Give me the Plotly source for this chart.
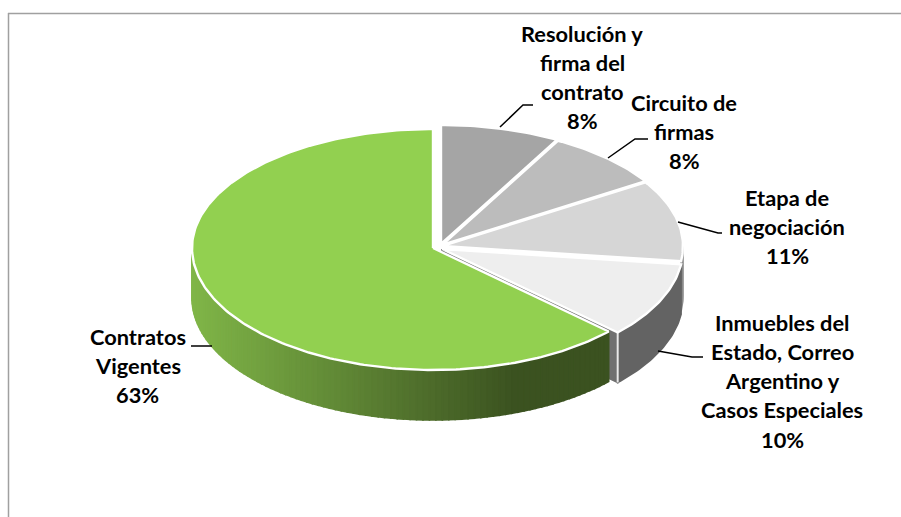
import math
import numpy as np
import plotly.graph_objects as go

# --- data ---
categories = ["Resolución y firma del contrato", "Circuito de firmas", "Etapa de negociación",
              "Inmuebles del Estado, Correo Argentino y Casos Especiales", "Contratos Vigentes"]
values = [8, 8, 11, 10, 63]
label_lines = [["Resolución y", "firma del", "contrato"], ["Circuito de", "firmas"],
               ["Etapa de", "negociación"], ["Inmuebles del", "Estado, Correo", "Argentino y", "Casos Especiales"],
               ["Contratos", "Vigentes"]]
top_colors = ["#a5a5a5", "#bcbcbc", "#d6d6d6", "#eeeeee", "#92d050"]

# --- layout of the drawing (pixels) ---
W, H = 901, 517
RX, RY_BACK, RY_FRONT, DEPTH = 241, 119, 122, 50
centers = [(441, 244), (442, 245), (442, 246), (442, 249), (433, 248)]
label_pos = [(582, 33), (684, 102), (787, 197), (782, 322), (137.5, 336)]
LINE_STEP = 29.3
leaders = [[(500, 127), (523, 105), (533, 105)], [(608, 158), (635, 139), (648, 139)],
           [(678, 222), (718, 233), (722, 233)], [(658, 351), (692, 357), (703, 357)],
           [(191, 346), (212, 346)]]


def pt(c, theta, dy=0.0):
    s, co = math.sin(theta), math.cos(theta)
    ry = RY_BACK if co > 0 else RY_FRONT
    return c[0] + RX * s, c[1] - ry * co + dy


def arc(c, a0, a1, dy=0.0, n=None):
    n = n or max(3, int(abs(a1 - a0) * 60))
    return [pt(c, a, dy) for a in np.linspace(a0, a1, n)]


def lerp_hex(a, b, t):
    t = min(max(t, 0), 1)
    ca = [int(a[i:i + 2], 16) for i in (1, 3, 5)]
    cb = [int(b[i:i + 2], 16) for i in (1, 3, 5)]
    return "#%02x%02x%02x" % tuple(round(x + (y - x) * t) for x, y in zip(ca, cb))


fig = go.Figure()


def poly(points, fill, line=None, width=0, name=""):
    xs = [p[0] for p in points] + [points[0][0]]
    ys = [p[1] for p in points] + [points[0][1]]
    fig.add_trace(go.Scatter(x=xs, y=ys, mode="lines", fill="toself", fillcolor=fill,
                             line=dict(color=line or fill, width=width if line else 1.6),
                             hoverinfo="skip", showlegend=False, name=name))


# slice angles from the values
total = sum(values)
edges = np.cumsum([0] + values) / total * 2 * math.pi
ang = [(edges[i], edges[i + 1]) for i in range(len(values))]

# Etapa side sliver at the far right
a0, a1 = ang[2]
poly(arc(centers[2], math.pi / 2, a1) + arc(centers[2], a1, math.pi / 2, DEPTH), "#8a8a8a")

# Inmuebles radial face and rim
a0, a1 = ang[3]
c = centers[3]
poly([c, pt(c, a1), pt(c, a1, DEPTH), (c[0], c[1] + DEPTH)], "#707070")
poly(arc(c, a0, a1) + arc(c, a1, a0, DEPTH), "#636363")
p = pt(c, a1)
fig.add_trace(go.Scatter(x=[p[0], p[0]], y=[p[1], p[1] + DEPTH], mode="lines",
                         line=dict(color="#e8e8e8", width=2), hoverinfo="skip", showlegend=False))

# Green rim as a horizontal gradient, strip by strip (drawn left to right)
a0, a1 = ang[4]
c = centers[4]
rim = np.linspace(1.5 * math.pi, a0, 90)
x_left, x_dark = c[0] - RX, 515
for t0, t1 in zip(rim[:-1], rim[1:]):
    xm = pt(c, (t0 + t1) / 2)[0]
    col = lerp_hex("#80b648", "#3b5220", (xm - x_left) / (x_dark - x_left))
    poly([pt(c, t0), pt(c, t1), pt(c, t1, DEPTH), pt(c, t0, DEPTH)], col)

# Top faces
for i in [0, 1, 2, 3, 4]:
    a0, a1 = ang[i]
    c = centers[i]
    poly([c] + arc(c, a0, a1), top_colors[i], line="#ffffff", width=2.4, name=categories[i])

# Leader lines and labels
shapes = []
for pts in leaders:
    path = "M " + " L ".join(f"{x} {y}" for x, y in pts)
    shapes.append(dict(type="path", path=path, xref="x", yref="y", line=dict(color="#000000", width=1.5)))
# Chart frame: top and left edges only
shapes.append(dict(type="line", xref="x", yref="y", x0=8, y0=13.5, x1=W, y1=13.5, line=dict(color="#a0a0a0", width=1.5)))
shapes.append(dict(type="line", xref="x", yref="y", x0=8.5, y0=13, x1=8.5, y1=H, line=dict(color="#a0a0a0", width=1.5)))

annotations = []
for lines, v, (x, y) in zip(label_lines, values, label_pos):
    for k, t in enumerate(lines + [f"{v}%"]):
        annotations.append(dict(x=x, y=y + k * LINE_STEP, text=t, showarrow=False, xref="x", yref="y",
                                xanchor="center", yanchor="middle",
                                font=dict(family="Lato", size=21.8, color="#000000", weight="bold")))

fig.update_layout(width=W, height=H, margin=dict(l=0, r=0, t=0, b=0), paper_bgcolor="#ffffff",
                  plot_bgcolor="#ffffff", showlegend=False, shapes=shapes, annotations=annotations,
                  xaxis=dict(range=[0, W], visible=False, fixedrange=True),
                  yaxis=dict(range=[H, 0], visible=False, fixedrange=True))
fig.write_html("out.html", post_script="document.body.style.margin='0';document.body.style.overflow='hidden';",
               config=dict(displayModeBar=False))
